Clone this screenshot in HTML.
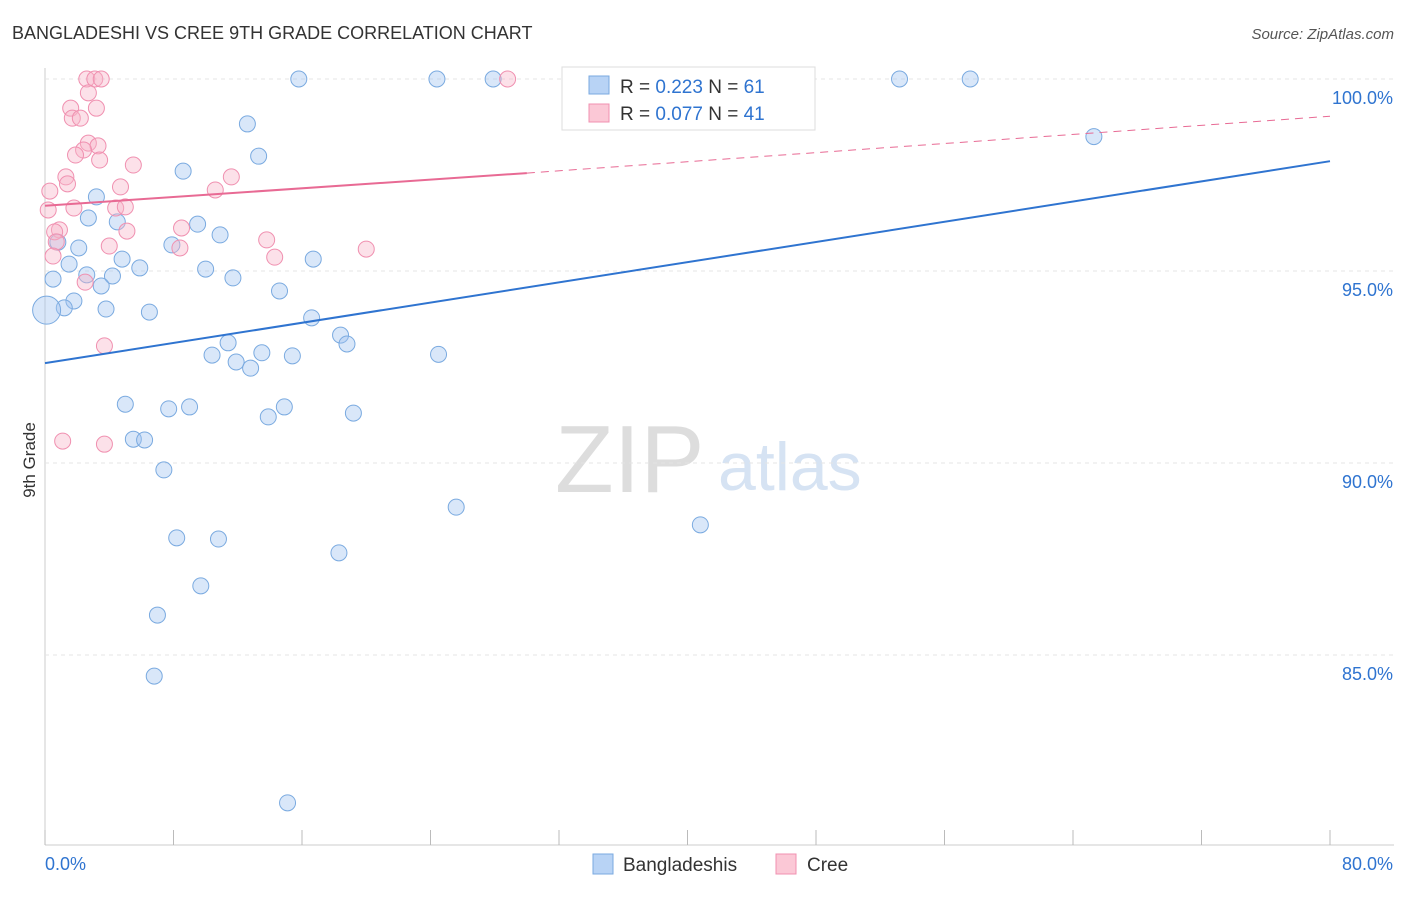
<!DOCTYPE html>
<html><head><meta charset="utf-8"><style>
body{margin:0;background:#fff;font-family:"Liberation Sans",sans-serif}
svg text{font-family:"Liberation Sans",sans-serif}
</style></head><body>
<svg id="c" width="1406" height="892">
<text x="12" y="39" font-size="18" fill="#333">BANGLADESHI VS CREE 9TH GRADE CORRELATION CHART</text>
<text x="1394" y="39" font-size="15" fill="#555" font-style="italic" text-anchor="end">Source: ZipAtlas.com</text>
<text x="35" y="460" font-size="17" fill="#333" transform="rotate(-90 35 460)" text-anchor="middle">9th Grade</text>
<text x="555" y="492" font-size="96" fill="#ddd" font-family="Liberation Serif">ZIP</text>
<text x="718" y="490" font-size="68" fill="#d6e3f3">atlas</text>
<g id="grid"></g><g id="marks"></g>
<rect x="562" y="67" width="253" height="63" fill="#fff" stroke="#ddd"/>
<rect x="589" y="76" width="20" height="18" fill="#b8d3f5" stroke="#7aaae0"/>
<rect x="589" y="104" width="20" height="18" fill="#fbc8d6" stroke="#f090b0"/>
<text x="620" y="93" font-size="19" fill="#333">R = <tspan fill="#2f74d0">0.223</tspan>   N = <tspan fill="#2f74d0">61</tspan></text>
<text x="620" y="120" font-size="19" fill="#333">R = <tspan fill="#2f74d0">0.077</tspan>   N = <tspan fill="#2f74d0">41</tspan></text>
<rect x="593" y="854" width="20" height="20" fill="#b8d3f5" stroke="#7aaae0"/>
<text x="623" y="871" font-size="19" fill="#333">Bangladeshis</text>
<rect x="776" y="854" width="20" height="20" fill="#fbc8d6" stroke="#f090b0"/>
<text x="807" y="871" font-size="19" fill="#333">Cree</text>
</svg>
<script>
const blueX=[15.8,24.4,27.9,53.2,57.6,12.6,65.3,13.3,8.6,3.2,2.7,4.5,9.5,10.9,0.8,2.1,7.9,16.7,4.8,1.5,5.9,10,2.6,4.2,11.7,0.5,3.5,14.6,1.8,1.2,3.8,6.5,0.1,16.6,18.4,18.8,11.4,10.4,13.5,15.4,11.9,12.8,24.5,5,7.7,9,14.9,13.9,19.2,5.5,6.2,7.4,25.6,40.8,8.2,10.8,18.3,9.7,7,6.8,15.1];
const blueY=[100,100,100,100,100,98.83,98.5,97.99,97.6,96.93,96.38,96.28,96.22,95.94,95.75,95.6,95.68,95.31,95.31,95.18,95.08,95.05,94.9,94.87,94.82,94.79,94.61,94.48,94.22,94.04,94.01,93.93,93.98,93.78,93.33,93.1,93.13,92.81,92.87,92.79,92.63,92.47,92.83,91.53,91.41,91.46,91.46,91.2,91.3,90.62,90.6,89.82,88.85,88.39,88.05,88.02,87.66,86.8,86.04,84.45,81.15];
const pinkX=[2.6,3.1,3.5,28.8,2.7,1.6,3.2,1.7,2.2,2.7,3.3,2.4,1.9,3.4,5.5,1.3,1.4,0.3,4.7,10.6,11.6,1.8,4.4,5,0.2,0.9,0.6,5.1,8.5,13.8,4.0,8.4,0.7,20.0,14.3,0.5,2.5,3.7,1.1,3.7];
const pinkY=[100,100,100,100,99.64,99.24,99.24,98.98,98.98,98.33,98.26,98.15,98.02,97.89,97.76,97.45,97.27,97.08,97.19,97.11,97.45,96.64,96.64,96.67,96.59,96.07,96.02,96.04,96.12,95.81,95.65,95.6,95.76,95.57,95.36,95.39,94.71,93.05,90.57,90.49];
const ticksY=[100,95,90,85];
const blueLine=[[0,92.6],[80,97.86]];
const pinkLine=[[0,96.7],[30,97.55],[80,99.03]];
const X=v=>45+v*16.0625, Y=v=>79+(100-v)*38.4;
const NS="http://www.w3.org/2000/svg";
function mk(t,a,p){const e=document.createElementNS(NS,t);for(const k in a)e.setAttribute(k,a[k]);p.appendChild(e);return e;}
const g=document.getElementById('grid'),m=document.getElementById('marks');
mk('line',{x1:45,y1:68,x2:45,y2:845,stroke:'#ccc'},g);
mk('line',{x1:45,y1:845,x2:1394,y2:845,stroke:'#ccc'},g);
ticksY.forEach(v=>{const l=mk('line',{x1:45,y1:Y(v),x2:1394,y2:Y(v),stroke:'#e4e4e4','stroke-dasharray':'4 4'},g);


const t=mk('text',{x:1393,y:Y(v)+25,'font-size':18,fill:'#2f74d0','text-anchor':'end'},g);t.textContent=v.toFixed(1)+'%';

});
for(let i=0;i<=10;i++){const l=mk('line',{x1:X(i*8),y1:830,x2:X(i*8),y2:845,stroke:'#bbb'},g);

}
const tx0=mk('text',{x:45,y:870,'font-size':18,fill:'#2f74d0'},g);tx0.textContent='0.0%';


const tx1=mk('text',{x:1393,y:870,'font-size':18,fill:'#2f74d0','text-anchor':'end'},g);tx1.textContent='80.0%';


blueX.forEach((v,i)=>{const c=mk('circle',{cx:X(v),cy:Y(blueY[i]),r:v<0.3?14:8,fill:'rgba(160,196,240,0.4)',stroke:'#7aaae0','stroke-width':1},m);

});
pinkX.forEach((v,i)=>{const c=mk('circle',{cx:X(v),cy:Y(pinkY[i]),r:8,fill:'rgba(248,180,200,0.4)',stroke:'#f090b0','stroke-width':1},m);

});
const bl=mk('line',{x1:X(blueLine[0][0]),y1:Y(blueLine[0][1]),x2:X(blueLine[1][0]),y2:Y(blueLine[1][1]),stroke:'#2f74d0','stroke-width':2},m);


const pl=mk('line',{x1:X(pinkLine[0][0]),y1:Y(pinkLine[0][1]),x2:X(pinkLine[1][0]),y2:Y(pinkLine[1][1]),stroke:'#e86a94','stroke-width':2},m);


const pd=mk('line',{x1:X(pinkLine[1][0]),y1:Y(pinkLine[1][1]),x2:X(pinkLine[2][0]),y2:Y(pinkLine[2][1]),stroke:'#e86a94','stroke-width':1,'stroke-dasharray':'8 6'},m);


</script>
</body></html>
